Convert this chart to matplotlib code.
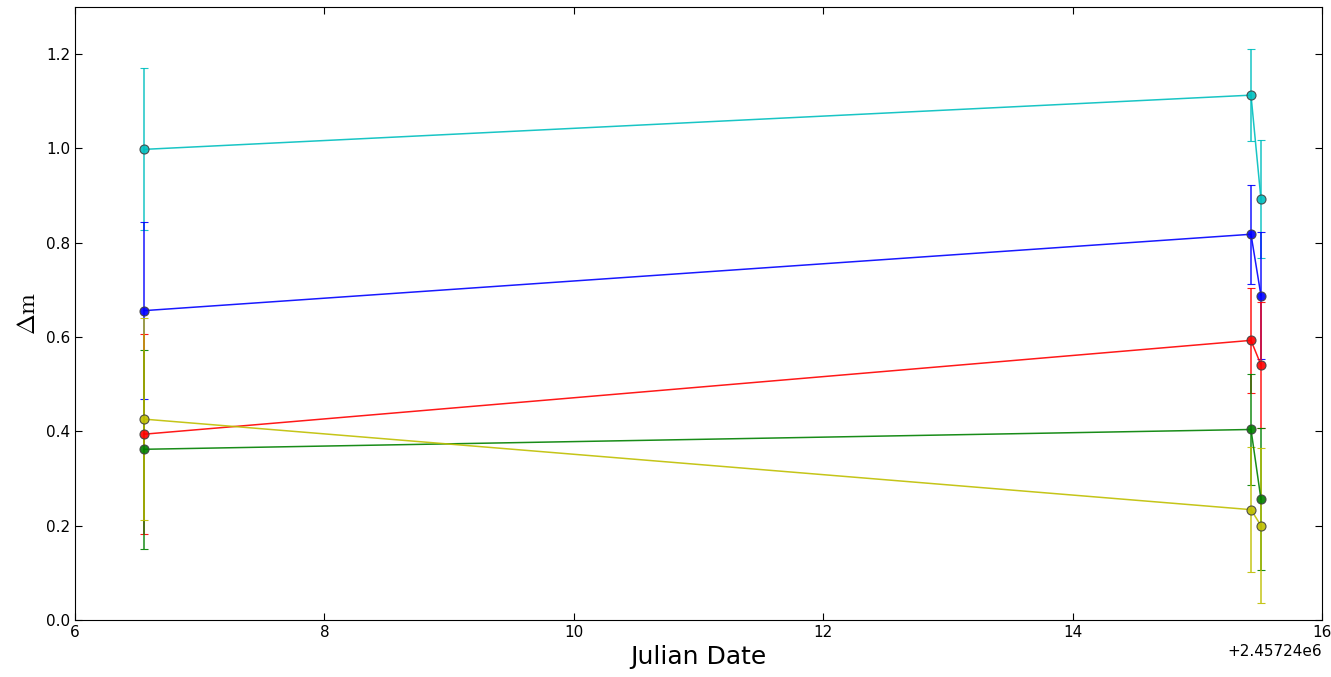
import matplotlib
matplotlib.use("Agg")
import matplotlib.pyplot as plt
from matplotlib.ticker import ScalarFormatter

plt.rcParams['mathtext.fontset'] = 'cm'

# observation dates (JD)
jd = [2457246.553, 2457255.431, 2457255.511]

# magnitude differences and errors per band
dm_c = [0.998, 1.113, 0.892]
err_c = [0.172, 0.097, 0.125]
dm_b = [0.656, 0.818, 0.688]
err_b = [0.188, 0.105, 0.135]
dm_r = [0.394, 0.593, 0.541]
err_r = [0.212, 0.112, 0.133]
dm_g = [0.362, 0.404, 0.256]
err_g = [0.211, 0.118, 0.151]
dm_y = [0.426, 0.234, 0.200]
err_y = [0.215, 0.132, 0.164]

series = [
    (dm_c, err_c, (0.0, 0.75, 0.75)),
    (dm_b, err_b, (0.0, 0.0, 1.0)),
    (dm_r, err_r, (1.0, 0.0, 0.0)),
    (dm_g, err_g, (0.0, 0.5, 0.0)),
    (dm_y, err_y, (0.75, 0.75, 0.0)),
]

fig = plt.figure(figsize=(13.31, 6.77), dpi=100)
ax = fig.add_axes([0.0563, 0.0842, 0.9369, 0.9055])

for dm, err, col in series:
    ax.errorbar(jd, dm, yerr=err, color=col, ecolor=col + (0.6,), marker='o',
                markersize=6.5, markeredgecolor='0.25', markeredgewidth=0.8,
                linewidth=1.1, elinewidth=1.1, capsize=3, alpha=0.9)

ax.set_xlim(2457246, 2457256)
ax.set_ylim(0, 1.3)
ax.set_yticks([0.0, 0.2, 0.4, 0.6, 0.8, 1.0, 1.2])
fmt = ScalarFormatter(useOffset=2457240)
ax.xaxis.set_major_formatter(fmt)
ax.tick_params(direction='in', top=True, right=True, labelsize=11, length=5)
ax.set_xlabel('Julian Date', fontsize=18)
ax.set_ylabel(r'$\Delta \mathrm{m}$', fontsize=18)
ax.xaxis.get_offset_text().set_fontsize(11)

fig.savefig('out.png', dpi=100)
